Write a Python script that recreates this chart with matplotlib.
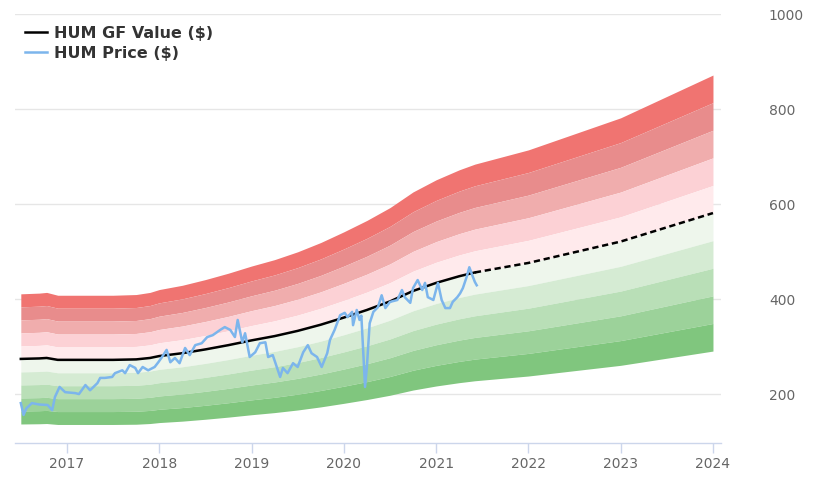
import matplotlib
matplotlib.use('Agg')
import matplotlib.pyplot as plt
import numpy as np

# GF value (fractional years), solid up to 2021.42, projection after
gf_years = [2016.50, 2016.70, 2016.78, 2016.90, 2017.20, 2017.50, 2017.75, 2017.90,
            2018.00, 2018.25, 2018.50, 2018.75, 2019.00, 2019.25, 2019.50, 2019.75,
            2020.00, 2020.25, 2020.50, 2020.75, 2021.00, 2021.25, 2021.42,
            2022.00, 2023.00, 2024.00]
gf_value = [274, 275, 276, 272, 272, 272, 273, 276,
            280, 286, 294, 303, 313, 322, 333, 346,
            361, 377, 395, 417, 434, 448, 456,
            476, 521, 581]
gf_last_actual = 2021.42

price_years = [2016.50, 2016.53, 2016.56, 2016.62, 2016.70, 2016.79, 2016.84, 2016.87,
               2016.92, 2016.98, 2017.09, 2017.13, 2017.20, 2017.25, 2017.33, 2017.36,
               2017.41, 2017.49, 2017.52, 2017.60, 2017.63, 2017.68, 2017.74, 2017.77,
               2017.82, 2017.88, 2017.95, 2017.99, 2018.03, 2018.08, 2018.12, 2018.17,
               2018.22, 2018.28, 2018.33, 2018.39, 2018.46, 2018.52, 2018.58, 2018.66,
               2018.71, 2018.77, 2018.82, 2018.85, 2018.90, 2018.93, 2018.98, 2019.04,
               2019.09, 2019.15, 2019.18, 2019.23, 2019.31, 2019.34, 2019.39, 2019.45,
               2019.50, 2019.56, 2019.61, 2019.65, 2019.71, 2019.76, 2019.82, 2019.85,
               2019.90, 2019.96, 2020.01, 2020.04, 2020.09, 2020.10, 2020.14, 2020.17,
               2020.19, 2020.23, 2020.25, 2020.28, 2020.32, 2020.37, 2020.41, 2020.45,
               2020.50, 2020.58, 2020.63, 2020.66, 2020.72, 2020.75, 2020.80, 2020.85,
               2020.88, 2020.91, 2020.97, 2021.02, 2021.06, 2021.10, 2021.15, 2021.18,
               2021.23, 2021.26, 2021.29, 2021.33, 2021.36, 2021.39, 2021.42, 2021.44]
price = [181, 156, 170, 181, 178, 177, 166, 194,
         215, 204, 202, 200, 219, 208, 223, 234,
         234, 236, 244, 250, 244, 261, 255, 244,
         257, 250, 257, 267, 278, 293, 267, 276,
         265, 297, 282, 303, 307, 320, 324, 335,
         341, 335, 320, 356, 309, 328, 278, 288,
         307, 309, 278, 282, 236, 255, 244, 265,
         257, 288, 303, 286, 278, 257, 286, 314,
         335, 366, 371, 362, 373, 345, 377, 356,
         365, 215, 257, 349, 373, 383, 408, 381,
         394, 398, 419, 404, 392, 423, 440, 419,
         434, 404, 398, 434, 398, 381, 381, 394,
         404, 412, 423, 446, 467, 451, 436, 429]

# band multipliers of the GF value, top to bottom
band_edges = [1.5, 1.4, 1.3, 1.2, 1.1, 1.0, 0.9, 0.8, 0.7, 0.6, 0.5]
band_colors = ['#f07471', '#e88c8c', '#f0adad', '#fcd1d5', '#ffeaec',
               '#eef6ec', '#d5ebd3', '#b9dfb7', '#9cd29a', '#80c67e']

year_ticks = [2017, 2018, 2019, 2020, 2021, 2022, 2023, 2024]
value_ticks = [200, 400, 600, 800, 1000]


def main():
    fig = plt.figure(figsize=(8.2, 4.92), dpi=100)
    ax = fig.add_axes([15 / 820, 49 / 492, 706 / 820, 429 / 492])

    t = np.array(gf_years)
    gf = np.array(gf_value)
    for i, c in enumerate(band_colors):
        ax.fill_between(t, gf * band_edges[i + 1], gf * band_edges[i],
                        color=c, lw=0, zorder=1)

    solid = t <= gf_last_actual
    dash = t >= gf_last_actual
    ax.plot(t[solid], gf[solid], color='black', lw=1.8, zorder=3,
            label='HUM GF Value ($)')
    ax.plot(t[dash], gf[dash], color='black', lw=1.8, zorder=3,
            linestyle=(0, (2.5, 1.5)))
    ax.plot(price_years, price, color='#7cb5ec', lw=1.8, zorder=4,
            label='HUM Price ($)')

    ax.set_xlim(2016.437, 2024.087)
    ax.set_ylim(97, 1000)
    ax.set_xticks(year_ticks)
    ax.set_xticklabels([str(y) for y in year_ticks])
    ax.set_yticks(value_ticks)
    ax.yaxis.tick_right()
    ax.grid(axis='y', color='#e6e6e6', lw=1, zorder=0)
    ax.set_axisbelow(True)

    for s in ['top', 'left', 'right']:
        ax.spines[s].set_visible(False)
    ax.spines['bottom'].set_color('#ccd6eb')
    ax.spines['bottom'].set_linewidth(1)
    ax.tick_params(axis='x', length=7.2, width=1, color='#ccd6eb',
                   labelcolor='#666666', labelsize=10, pad=3)
    ax.tick_params(axis='y', length=0, labelcolor='#666666', labelsize=10, pad=34.5)

    leg = ax.legend(loc='upper left', bbox_to_anchor=(25 / 820, 1 - 26 / 492),
                    bbox_transform=fig.transFigure, frameon=False,
                    borderpad=0, borderaxespad=0, handlelength=1.35,
                    handletextpad=0.45, labelspacing=0.3,
                    prop={'weight': 'bold', 'size': 11.5})
    for txt in leg.get_texts():
        txt.set_color('#333333')

    fig.savefig('out.png', dpi=100)


if __name__ == '__main__':
    main()
